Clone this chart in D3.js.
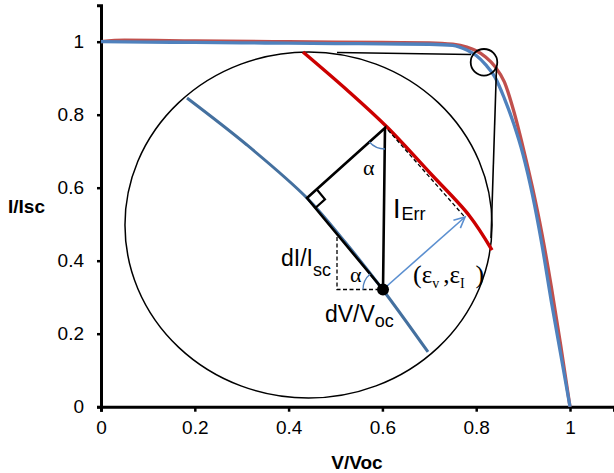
<!DOCTYPE html>
<html><head><meta charset="utf-8">
<script src="https://cdnjs.cloudflare.com/ajax/libs/d3/7.8.5/d3.min.js"></script>
<style>
html,body{margin:0;padding:0;background:#fff;}
svg{display:block;font-family:"Liberation Sans",Arial,sans-serif;}
</style></head>
<body>
<svg id="chart" width="614" height="473"></svg>
<script>
// ---- Data (V/Voc, I/Isc) ----
const vBlue = [0, 0.1, 0.2, 0.3, 0.4, 0.5, 0.6, 0.7, 0.75, 0.78, 0.80, 0.82, 0.84, 0.86, 0.88, 0.90, 0.92, 0.94, 0.96, 0.98, 1.0];
const iBlue = [1.0, 0.999, 0.998, 0.997, 0.996, 0.995, 0.994, 0.993, 0.99, 0.977, 0.962, 0.937, 0.903, 0.845, 0.775, 0.69, 0.58, 0.445, 0.29, 0.145, 0];
const vRed  = [0, 0.05, 0.2, 0.4, 0.6, 0.7, 0.75, 0.78, 0.80, 0.82, 0.84, 0.86, 0.88, 0.90, 0.92, 0.94, 0.96, 0.98, 1.0];
const iRed  = [1.0, 1.004, 1.002, 1.0, 0.998, 0.997, 0.993, 0.985, 0.975, 0.958, 0.932, 0.89, 0.81, 0.71, 0.60, 0.475, 0.33, 0.17, 0];

const xTicks = [0, 0.2, 0.4, 0.6, 0.8, 1];
const yTicks = [0, 0.2, 0.4, 0.6, 0.8, 1];
const xTickLabels = ["0", "0.2", "0.4", "0.6", "0.8", "1"];
const yTickLabels = ["0", "0.2", "0.4", "0.6", "0.8", "1"];

// ---- Inset annotation (in data units) ----
const insetBlueV = [0.1834, 0.3113, 0.4392, 0.5203, 0.6013, 0.6972];
const insetBlueI = [0.8458, 0.7170, 0.5718, 0.4512, 0.3197, 0.1499];
const insetRedV  = [0.4307, 0.5245, 0.6098, 0.7015, 0.7846, 0.8337];
const insetRedI  = [0.9718, 0.8677, 0.7663, 0.6403, 0.5247, 0.4293];
const triTop    = [0.6055, 0.7636];
const triCorner = [0.4392, 0.5718];
const dotPt     = [0.6013, 0.3211];
const dashBoxTop = [0.5032, 0.4649];
const dashRed   = [[0.6119, 0.7581], [0.7740, 0.5222]];
const arrowEnd  = [0.7761, 0.5197];
const lens      = {cv: 0.4424, ci: 0.4978, rv: 0.3913, ri: 0.474};
const zoomCircle = {cv: 0.8166, ci: 0.9436, rv: 0.02836};
const connectors = [[[0.5032, 0.9704], [0.7889, 0.9649]], [[0.8433, 0.9321], [0.8316, 0.4622]]];
const labelAlphaTop = [0.5586, 0.6348];
const labelAlphaBot = [0.5309, 0.3411];
const labelIerr = [0.6226, 0.5170];
const labelDI = [0.3838, 0.3855];
const labelDV = [0.4776, 0.2321];
const labelEps = [0.6652, 0.3389];

const svg = d3.select("#chart");
const x = d3.scaleLinear().domain([0, 1.0938]).range([101, 614]);
const y = d3.scaleLinear().domain([0, 1.1]).range([406.7, 5.2]);

// Axes
const xAxis = d3.axisBottom(x).tickValues(xTicks).tickSize(5).tickPadding(9)
  .tickFormat((d,i)=>xTickLabels[i]);
const yAxis = d3.axisLeft(y).tickValues(yTicks).tickSize(4).tickPadding(13)
  .tickFormat((d,i)=>yTickLabels[i]);

const gx = svg.append("g").attr("transform", `translate(0,${y(0)})`).call(xAxis);
const gy = svg.append("g").attr("transform", `translate(${x(0)},0)`).call(yAxis);
[gx, gy].forEach(g => {
  g.select(".domain").attr("stroke", "#000").attr("stroke-width", 3);
  g.selectAll(".tick line").attr("stroke", "#000").attr("stroke-width", 2.5);
  g.selectAll(".tick text").attr("font-size", 19).attr("fill", "#000")
    .attr("font-family", '"Liberation Sans",Arial,sans-serif');
});

svg.append("text").attr("x", 357).attr("y", 469).attr("text-anchor", "middle")
  .attr("font-size", 19).attr("font-weight", "bold").text("V/Voc");
svg.append("text").attr("x", 8).attr("y", 213)
  .attr("font-size", 19).attr("font-weight", "bold").text("I/Isc");

// Main curves
const line = d3.line().x(d => x(d[0])).y(d => y(d[1])).curve(d3.curveMonotoneX);
svg.append("path").datum(vRed.map((v,i)=>[v, iRed[i]]))
  .attr("d", line).attr("fill", "none").attr("stroke", "#C0504D").attr("stroke-width", 3.3)
  .attr("stroke-linejoin", "round");
svg.append("path").datum(vBlue.map((v,i)=>[v, iBlue[i]]))
  .attr("d", line).attr("fill", "none").attr("stroke", "#4F81BD").attr("stroke-width", 3.3)
  .attr("stroke-linejoin", "round");

// Lens ellipse and zoom circle
svg.append("ellipse").attr("cx", x(lens.cv)).attr("cy", y(lens.ci))
  .attr("rx", x(lens.cv + lens.rv) - x(lens.cv)).attr("ry", y(lens.ci) - y(lens.ci + lens.ri))
  .attr("fill", "none").attr("stroke", "#000").attr("stroke-width", 1.5);
svg.append("circle").attr("cx", x(zoomCircle.cv)).attr("cy", y(zoomCircle.ci))
  .attr("r", x(zoomCircle.cv + zoomCircle.rv) - x(zoomCircle.cv))
  .attr("fill", "none").attr("stroke", "#000").attr("stroke-width", 1.8);
connectors.forEach(c => {
  svg.append("line").attr("x1", x(c[0][0])).attr("y1", y(c[0][1]))
    .attr("x2", x(c[1][0])).attr("y2", y(c[1][1]))
    .attr("stroke", "#000").attr("stroke-width", 1.6);
});

// Inset curves
const curveLine = d3.line().x(d => x(d[0])).y(d => y(d[1])).curve(d3.curveCatmullRom);
svg.append("path").datum(insetBlueV.map((v,i)=>[v, insetBlueI[i]]))
  .attr("d", curveLine).attr("fill", "none").attr("stroke", "#44709F").attr("stroke-width", 3);
svg.append("path").datum(insetRedV.map((v,i)=>[v, insetRedI[i]]))
  .attr("d", curveLine).attr("fill", "none").attr("stroke", "#CC0000").attr("stroke-width", 3.4);

// Dashed lines
const P = p => [x(p[0]), y(p[1])];
const [Tx, Ty] = P(triTop), [Cx, Cy] = P(triCorner), [Dx, Dy] = P(dotPt);
const [Bx, By] = P(dashBoxTop);
svg.append("path").attr("d", `M${Bx},${By}L${Bx},${Dy}L${Dx},${Dy}`)
  .attr("fill", "none").attr("stroke", "#000").attr("stroke-width", 1.3).attr("stroke-dasharray", "4,2.5");
svg.append("line").attr("x1", x(dashRed[0][0])).attr("y1", y(dashRed[0][1]))
  .attr("x2", x(dashRed[1][0])).attr("y2", y(dashRed[1][1]))
  .attr("stroke", "#000").attr("stroke-width", 1.3).attr("stroke-dasharray", "4,2.5");

// Triangle
svg.append("path").attr("d", `M${Cx},${Cy}L${Tx},${Ty}L${Dx},${Dy}Z`)
  .attr("fill", "none").attr("stroke", "#000").attr("stroke-width", 2.6).attr("stroke-linejoin", "miter");
// right-angle marker
const u1 = [Tx - Cx, Ty - Cy], u2 = [Dx - Cx, Dy - Cy];
const n1 = Math.hypot(...u1), n2 = Math.hypot(...u2), s = 13;
const a = [Cx + u1[0]/n1*s, Cy + u1[1]/n1*s], b = [Cx + u2[0]/n2*s, Cy + u2[1]/n2*s];
const cpt = [a[0] + u2[0]/n2*s, a[1] + u2[1]/n2*s];
svg.append("path").attr("d", `M${a[0]},${a[1]}L${cpt[0]},${cpt[1]}L${b[0]},${b[1]}`)
  .attr("fill", "none").attr("stroke", "#000").attr("stroke-width", 2.2);

// Angle arcs
function arcPath(cx, cy, r, a0, a1) {
  const p0 = [cx + r*Math.cos(a0), cy + r*Math.sin(a0)];
  const p1 = [cx + r*Math.cos(a1), cy + r*Math.sin(a1)];
  const sweep = a1 > a0 ? 1 : 0;
  return `M${p0[0]},${p0[1]}A${r},${r} 0 0 ${sweep} ${p1[0]},${p1[1]}`;
}
const angTC = Math.atan2(Cy - Ty, Cx - Tx);
svg.append("path").attr("d", arcPath(Tx, Ty, 21, Math.PI/2, angTC))
  .attr("fill", "none").attr("stroke", "#4F81BD").attr("stroke-width", 1.3);
const angDC = Math.atan2(Cy - Dy, Cx - Dx);
svg.append("path").attr("d", arcPath(Dx, Dy, 20, angDC, -Math.PI))
  .attr("fill", "none").attr("stroke", "#4F81BD").attr("stroke-width", 1.3);

// Arrow
const [Ax, Ay] = P(arrowEnd);
svg.append("line").attr("x1", Dx).attr("y1", Dy).attr("x2", Ax).attr("y2", Ay)
  .attr("stroke", "#5B8FD0").attr("stroke-width", 1.6);
const ang = Math.atan2(Ay - Dy, Ax - Dx), hl = 12, hw = 0.45;
svg.append("path").attr("d",
  `M${Ax - hl*Math.cos(ang - hw)},${Ay - hl*Math.sin(ang - hw)}L${Ax},${Ay}L${Ax - hl*Math.cos(ang + hw)},${Ay - hl*Math.sin(ang + hw)}`)
  .attr("fill", "none").attr("stroke", "#5B8FD0").attr("stroke-width", 1.6);

// Dot
svg.append("circle").attr("cx", Dx).attr("cy", Dy).attr("r", 6).attr("fill", "#000");

// Labels
const serif = '"Liberation Serif","Times New Roman",serif';
svg.append("text").attr("x", x(labelAlphaTop[0])).attr("y", y(labelAlphaTop[1]))
  .attr("font-family", serif).attr("font-size", 22).text("α");
svg.append("text").attr("x", x(labelAlphaBot[0])).attr("y", y(labelAlphaBot[1]))
  .attr("font-family", serif).attr("font-size", 22).text("α");

const tI = svg.append("text").attr("x", x(labelIerr[0])).attr("y", y(labelIerr[1])).attr("font-size", 27);
tI.append("tspan").text("I");
tI.append("tspan").attr("font-size", 18).attr("dy", 2).attr("dx", 1).text("Err");

const tDI = svg.append("text").attr("x", x(labelDI[0])).attr("y", y(labelDI[1])).attr("font-size", 23);
tDI.append("tspan").text("dI/I");
tDI.append("tspan").attr("font-size", 18).attr("dy", 10).text("sc");

const tDV = svg.append("text").attr("x", x(labelDV[0])).attr("y", y(labelDV[1])).attr("font-size", 23);
tDV.append("tspan").text("dV/V");
tDV.append("tspan").attr("font-size", 18).attr("dy", 5).text("oc");

const tE = svg.append("text").attr("x", x(labelEps[0])).attr("y", y(labelEps[1]))
  .attr("font-family", serif).attr("font-size", 26);
tE.append("tspan").text("(");
tE.append("tspan").attr("font-size", 25).text("ε");
tE.append("tspan").attr("font-size", 14).attr("dy", 5).text("v");
tE.append("tspan").attr("font-size", 25).attr("dy", -5).attr("dx", 4).text(",");
tE.append("tspan").attr("font-size", 25).text("ε");
tE.append("tspan").attr("font-size", 14).attr("dy", 5).text("I");
tE.append("tspan").attr("font-size", 26).attr("dy", -5).attr("dx", 11).text(")");
</script>
</body></html>
